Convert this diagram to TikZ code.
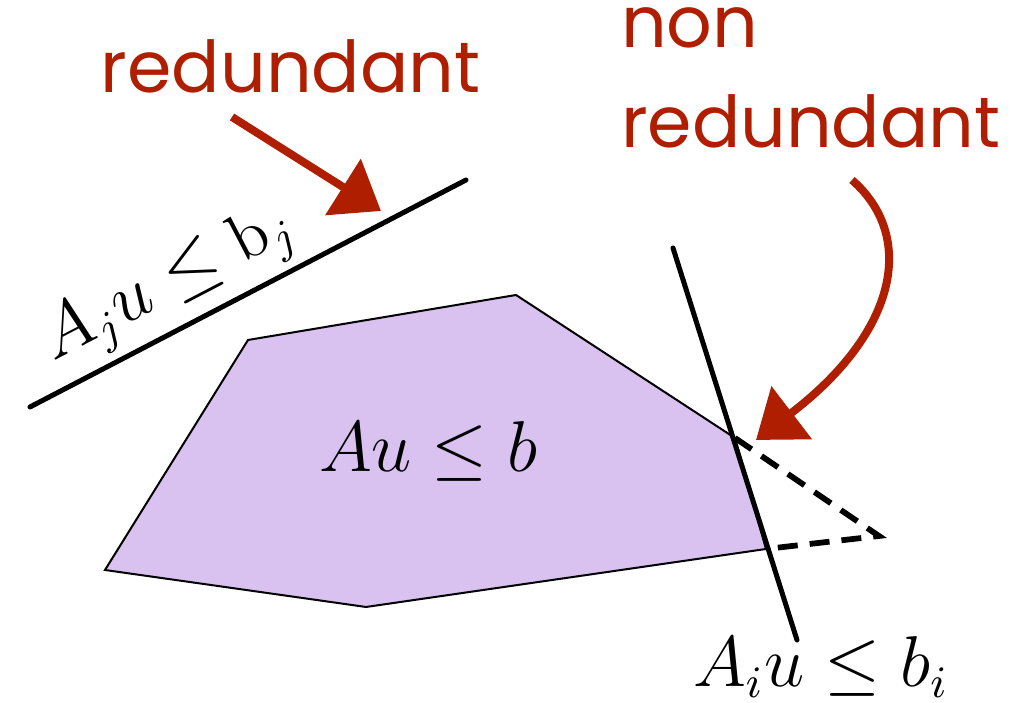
\documentclass[tikz,border=0pt]{standalone}
\usepackage{fontspec}
\usepackage{amsmath}
\usetikzlibrary{arrows.meta}
\newfontfamily\handfont{Poppins}
\definecolor{hdRed}{HTML}{B01E00}
\definecolor{polyFill}{HTML}{D9C2F0}
\tikzset{
  hand/.style={font=\handfont\fontsize{14.3}{16}\selectfont, text=hdRed, inner sep=0pt, anchor=base west},
  redarr/.style={-{Triangle[length=9pt,width=13pt]}, hdRed, line width=1.6pt},
  cons/.style={line width=1pt, line cap=round},
  lbl/.style={font=\fontsize{13.4}{16}\selectfont, inner sep=0pt, anchor=base west},
}

\begin{document}
\begin{tikzpicture}[x=0.2pt, y=-0.2pt]
  \useasboundingbox (0,0) rectangle (1029,703);
  % the feasible polygon
  \coordinate (p1) at (248,340);
  \coordinate (p2) at (516,295);
  \coordinate (p3) at (735,438);
  \coordinate (p4) at (766,549);
  \coordinate (p5) at (366,607);
  \coordinate (p6) at (105,570);
  \draw[fill=polyFill, line width=0.4pt] (p1) -- (p2) -- (p3) -- (p4) -- (p5) -- (p6) -- cycle;
  \node[lbl] (feas) at (318,472) {$Au \leq b$};
  % the part cut off by constraint i
  \coordinate (cut) at (879,536);
  \draw[line width=1.15pt, dash pattern=on 4pt off 2.4pt] (p3) -- (cut) -- (p4);
  % constraint lines
  \coordinate (j1) at (30,407);
  \coordinate (j2) at (466,180);
  \draw[cons] (j1) -- (j2);
  \node[lbl, rotate=27.5] (jlab) at (53,362) {$A_j u \leq \mathrm{b}_j$};
  \coordinate (i1) at (673,248);
  \coordinate (i2) at (797,640);
  \draw[cons] (i1) -- (i2);
  \node[lbl] (ilab) at (692,687) {$A_i u \leq b_i$};
  % handwritten remarks
  \node[hand] (red) at (100,93) {redundant};
  \node[hand] (non) at (620,48) {non};
  \node[hand] (nonred) at (620,148) {redundant};
  \coordinate (t1) at (232,117);
  \coordinate (h1) at (381,211);
  \draw[redarr] (t1) -- (h1);
  \coordinate (t2) at (852,180);
  \coordinate (h2) at (756,440);
  \draw[redarr] (t2) .. controls (915,235) and (900,330) .. (h2);
\end{tikzpicture}
\end{document}
